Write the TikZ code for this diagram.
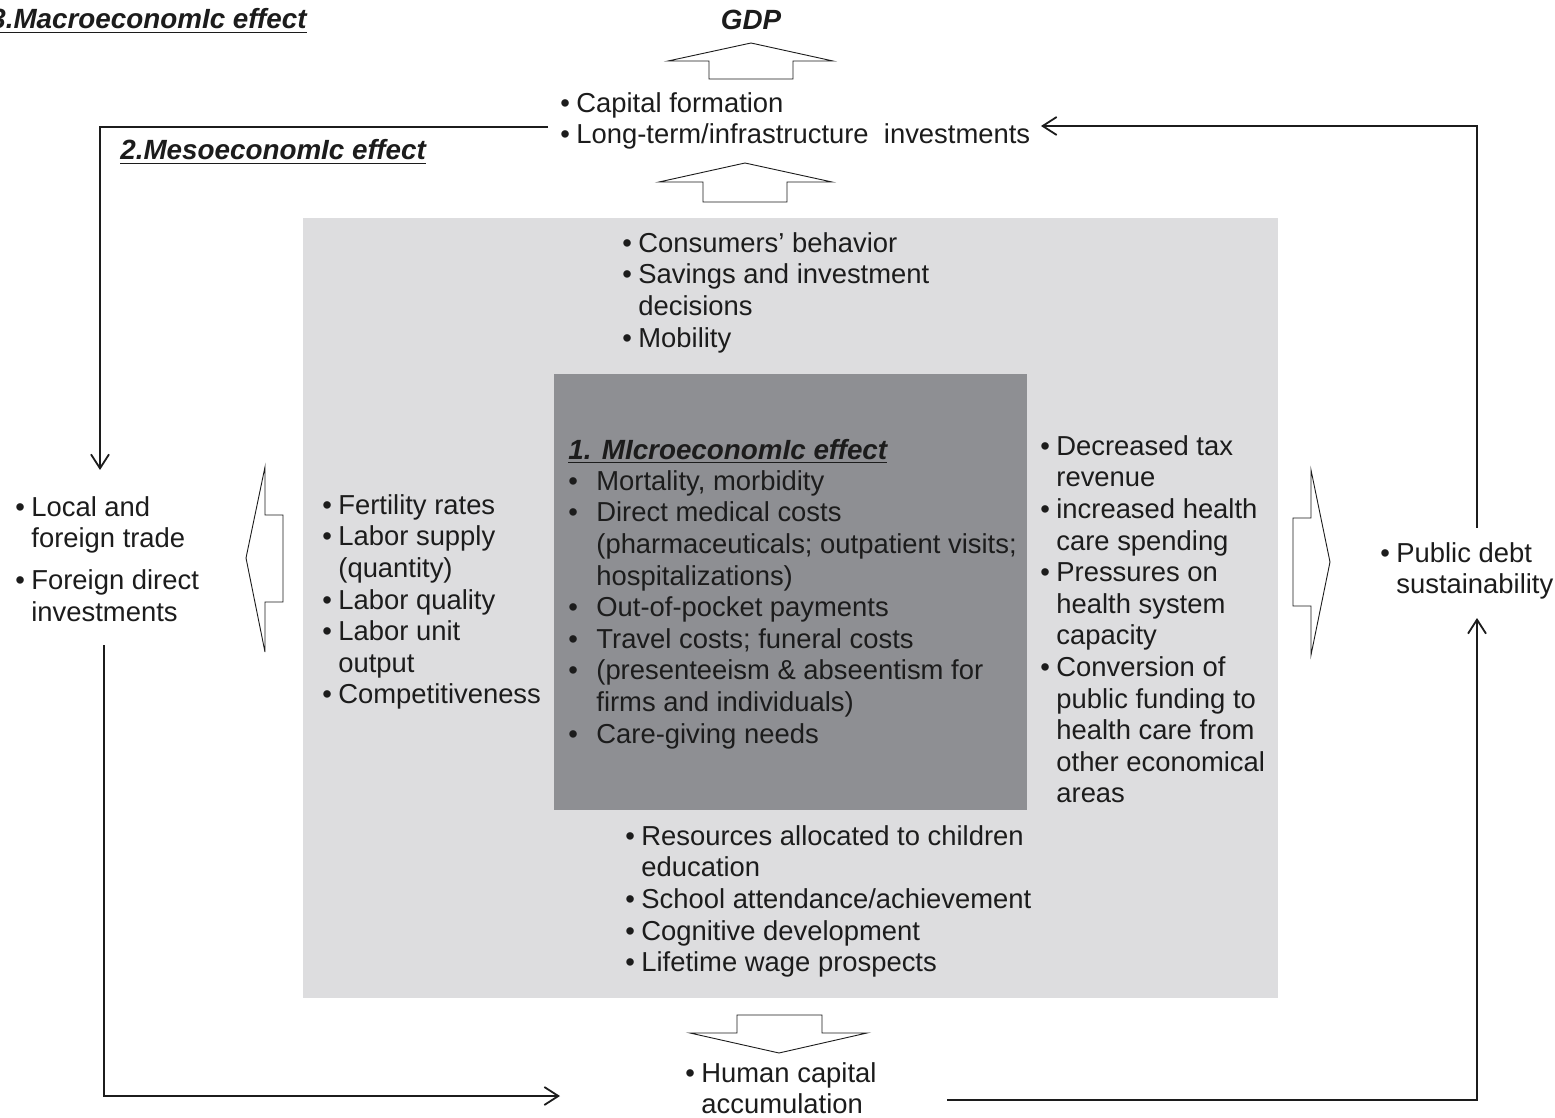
\documentclass[tikz,border=0pt]{standalone}
\usepackage{fontspec}
\setmainfont{Liberation Sans}
\usetikzlibrary{arrows.meta}
\definecolor{mesogray}{HTML}{DDDDDF}
\definecolor{microgray}{HTML}{8E8F93}
\definecolor{ink}{HTML}{1C1C1C}
% bullets with hanging indentation
\newcommand\bul{\makebox[8pt][l]{\textbullet}}
\newcommand\hng{\hspace*{8pt}}
\newcommand\ibul{\makebox[14pt][l]{\textbullet}}
\newcommand\ihng{\hspace*{14pt}}

\begin{document}
\begin{tikzpicture}[x=0.5pt,y=-0.5pt,
  txt/.style={anchor=north west, inner sep=0pt, align=left, text=ink,
              font=\fontsize{13.7}{15.8}\selectfont},
  ttl/.style={anchor=base west, inner sep=0pt, text=ink,
              font=\fontsize{13.9}{15}\selectfont\bfseries\itshape},
  conn/.style={draw=ink, line width=0.85pt, -{Straight Barb[length=7pt,width=9pt,line width=0.9pt]}},
  blockarrow/.style={draw=ink, line width=0.45pt, fill=white, line join=miter}]
\useasboundingbox (0,0) rectangle (1555,1118);
\fill[white] (0,0) rectangle (1555,1118);

% meso and micro panels
\fill[mesogray] (303,218) rectangle (1278,998);
\fill[microgray] (554,374) rectangle (1027,810);

% titles
\node[ttl] (macro) at (-10,29) {\underline{3.MacroeconomIc effect}};
\node[ttl] (meso) at (120,160) {\underline{2.MesoeconomIc effect}};
\node[ttl] (micro) at (568,459) {\underline{1. MIcroeconomIc effect}};
\node[anchor=center, inner sep=0pt, text=ink, font=\fontsize{13.9}{15}\selectfont\bfseries\itshape] (gdp) at (751,20) {GDP};

% block arrows
\draw[blockarrow] (709,79) -- (709,61) -- (668,61) -- (751,43) -- (833,61) -- (793,61) -- (793,79) -- cycle;
\draw[blockarrow] (703,202) -- (703,182) -- (659,182) -- (745,163) -- (832,182) -- (787,182) -- (787,202) -- cycle;
\draw[blockarrow] (283,515) -- (265,515) -- (265,467) -- (246,558) -- (265,652) -- (265,602) -- (283,602) -- cycle;
\draw[blockarrow] (1293,518) -- (1311,518) -- (1311,470) -- (1330,562) -- (1311,655) -- (1311,606) -- (1293,606) -- cycle;
\draw[blockarrow] (737,1015) -- (822,1015) -- (822,1033) -- (867,1033) -- (779,1053) -- (690,1033) -- (737,1033) -- cycle;

% macro level texts
\node[txt] (capital) at (560,92) {\bul Capital formation\\
  \bul Long-term/infrastructure\ \ investments};
\node[txt] (trade) at (15,496) {\bul Local and\\ \hng foreign trade\\[5pt]
  \bul Foreign direct\\ \hng investments};
\node[txt] (debt) at (1380,542) {\bul Public debt\\ \hng sustainability};
\node[txt] (human) at (685,1062) {\bul Human capital\\ \hng accumulation};

% meso level texts
\node[txt] (consumers) at (622,232) {\bul Consumers' behavior\\
  \bul Savings and investment\\ \hng decisions\\
  \bul Mobility};
\node[txt] (labor) at (322,494) {\bul Fertility rates\\
  \bul Labor supply\\ \hng (quantity)\\
  \bul Labor quality\\
  \bul Labor unit\\ \hng output\\
  \bul Competitiveness};
\node[txt] (fiscal) at (1040,435) {\bul Decreased tax\\ \hng revenue\\
  \bul increased health\\ \hng care spending\\
  \bul Pressures on\\ \hng health system\\ \hng capacity\\
  \bul Conversion of\\ \hng public funding to\\ \hng health care from\\
  \hng other economical\\ \hng areas};
\node[txt] (education) at (625,825) {\bul Resources allocated to children\\
  \hng education\\
  \bul School attendance/achievement\\
  \bul Cognitive development\\
  \bul Lifetime wage prospects};

% micro level text
\node[txt] (costs) at (568,470) {\ibul Mortality, morbidity\\
  \ibul Direct medical costs\\
  \ihng (pharmaceuticals; outpatient visits;\\
  \ihng hospitalizations)\\
  \ibul Out-of-pocket payments\\
  \ibul Travel costs; funeral costs\\
  \ibul (presenteeism \& abseentism for\\
  \ihng firms and individuals)\\
  \ibul Care-giving needs};

% feedback connectors
\coordinate (capout) at (548,127);
\coordinate (tradein) at (100,470);
\coordinate (tradeout) at (104,645);
\coordinate (humanin) at (560,1096);
\coordinate (humanout) at (947,1100);
\coordinate (debtin) at (1477,618);
\coordinate (debtout) at (1477,528);
\coordinate (capin) at (1041,126);
\draw[conn] (capout) -| (tradein);
\draw[conn] (tradeout) |- (humanin);
\draw[conn] (humanout) -| (debtin);
\draw[conn] (debtout) |- (capin);
\end{tikzpicture}
\end{document}
